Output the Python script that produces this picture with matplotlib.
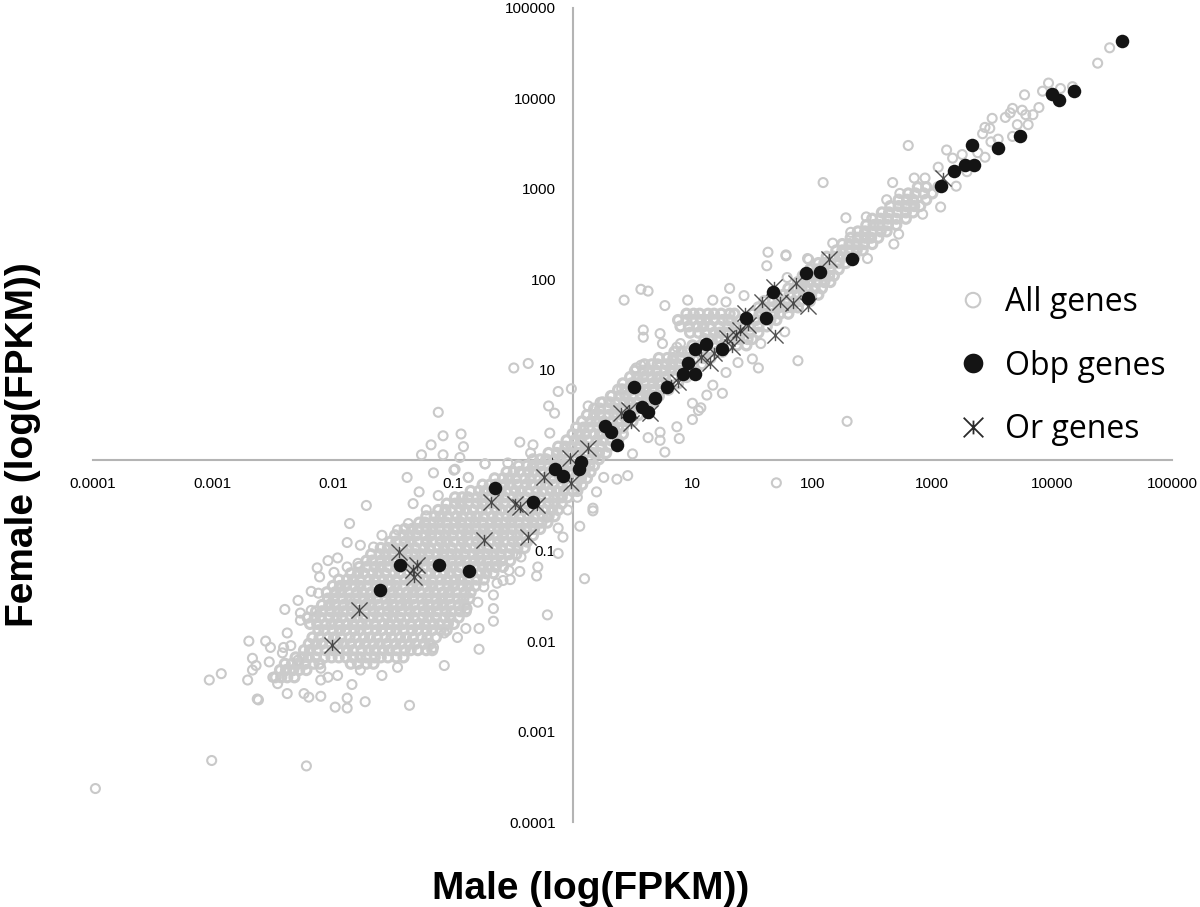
import numpy as np
import matplotlib.pyplot as plt
from matplotlib.path import Path

# everything below is log10(FPKM)
# dense part of the cloud, one male list per female level
low_levels = [-2.40, -2.32, -2.25, -2.18, -2.10, -2.03, -1.96, -1.88, -1.81, -1.74,
              -1.67, -1.60, -1.53, -1.46, -1.39, -1.32, -1.25, -1.18, -1.11, -1.04,
              -0.97, -0.90, -0.83, -0.76, -0.69, -0.62, -0.55, -0.48, -0.41, -0.34,
              -0.27, -0.20, -0.13, -0.06, 0.01, 0.08, 0.15, 0.22, 0.29]
low_male = [
    [-2.48, -2.43, -2.38, -2.32],
    [-2.44, -2.39, -2.33, -2.28, -2.22],
    [-2.40, -2.34, -2.29, -2.23, -2.16, -2.11, -1.85, -1.79, -1.72, -1.66],
    [-2.31, -2.25, -2.20, -2.14, -2.07, -2.01, -1.95, -1.89, -1.83, -1.77, -1.72, -1.65, -1.60, -1.54, -1.47, -1.41],
    [-2.24, -2.19, -2.13, -2.06, -2.00, -1.95, -1.88, -1.83, -1.76, -1.70, -1.65, -1.58, -1.53, -1.47, -1.40, -1.35, -1.29, -1.22, -1.17],
    [-2.20, -2.14, -2.09, -2.02, -1.96, -1.91, -1.85, -1.78, -1.73, -1.66, -1.61, -1.55, -1.48, -1.43, -1.36, -1.31, -1.24, -1.19],
    [-2.17, -2.11, -2.04, -1.99, -1.93, -1.86, -1.81, -1.74, -1.69, -1.63, -1.56, -1.51, -1.44, -1.39, -1.33, -1.26, -1.21, -1.14],
    [-2.12, -2.07, -2.00, -1.94, -1.89, -1.82, -1.77, -1.71, -1.64, -1.59, -1.52, -1.47, -1.41, -1.34, -1.29, -1.22, -1.17, -1.10, -1.05],
    [-2.19, -2.13, -2.06, -2.01, -1.95, -1.88, -1.83, -1.76, -1.71, -1.65, -1.58, -1.53, -1.46, -1.41, -1.35, -1.28, -1.23, -1.16, -1.11, -1.04, -0.99],
    [-2.21, -2.15, -2.10, -2.03, -1.97, -1.92, -1.85, -1.80, -1.74, -1.67, -1.62, -1.55, -1.50, -1.44, -1.37, -1.32, -1.25, -1.20, -1.14, -1.07, -1.02, -0.95],
    [-2.14, -2.09, -2.02, -1.96, -1.91, -1.84, -1.79, -1.73, -1.66, -1.61, -1.54, -1.49, -1.43, -1.36, -1.31, -1.24, -1.19, -1.13, -1.06, -1.01, -0.94, -0.89],
    [-2.09, -2.03, -1.98, -1.91, -1.85, -1.80, -1.73, -1.68, -1.62, -1.55, -1.50, -1.43, -1.38, -1.32, -1.25, -1.20, -1.13, -1.08, -1.02, -0.95, -0.90],
    [-2.04, -1.99, -1.92, -1.86, -1.81, -1.74, -1.69, -1.63, -1.56, -1.51, -1.44, -1.39, -1.33, -1.26, -1.21, -1.14, -1.09, -1.03, -0.96, -0.91, -0.86],
    [-2.05, -1.98, -1.93, -1.87, -1.80, -1.75, -1.68, -1.63, -1.57, -1.50, -1.45, -1.38, -1.33, -1.27, -1.20, -1.15, -1.08, -1.03, -0.97, -0.90, -0.85],
    [-2.00, -1.94, -1.89, -1.82, -1.77, -1.71, -1.64, -1.59, -1.52, -1.47, -1.41, -1.34, -1.29, -1.22, -1.17, -1.11, -1.04, -0.99, -0.92, -0.87, -0.81],
    [-1.95, -1.88, -1.83, -1.77, -1.70, -1.65, -1.58, -1.53, -1.47, -1.40, -1.35, -1.28, -1.23, -1.17, -1.10, -1.05, -0.98, -0.93, -0.87, -0.80, -0.74],
    [-1.85, -1.79, -1.74, -1.67, -1.62, -1.56, -1.49, -1.44, -1.37, -1.32, -1.26, -1.19, -1.14, -1.07, -1.02, -0.96, -0.89, -0.84, -0.77, -0.72, -0.66],
    [-1.78, -1.72, -1.65, -1.60, -1.54, -1.47, -1.42, -1.35, -1.30, -1.24, -1.17, -1.12, -1.05, -1.00, -0.94, -0.87, -0.82, -0.75, -0.70, -0.64, -0.58],
    [-1.72, -1.67, -1.60, -1.54, -1.49, -1.42, -1.37, -1.31, -1.24, -1.19, -1.12, -1.07, -1.01, -0.94, -0.89, -0.82, -0.77, -0.71, -0.64, -0.59, -0.52],
    [-1.68, -1.61, -1.56, -1.50, -1.43, -1.38, -1.31, -1.26, -1.20, -1.13, -1.08, -1.01, -0.96, -0.90, -0.83, -0.78, -0.71, -0.66, -0.60, -0.53, -0.47],
    [-1.60, -1.54, -1.49, -1.42, -1.37, -1.31, -1.24, -1.19, -1.12, -1.07, -1.01, -0.94, -0.89, -0.82, -0.77, -0.71, -0.64, -0.59, -0.52, -0.46, -0.40],
    [-1.52, -1.47, -1.40, -1.35, -1.29, -1.22, -1.17, -1.10, -1.05, -0.99, -0.92, -0.87, -0.80, -0.75, -0.69, -0.62, -0.57, -0.50, -0.45, -0.38],
    [-1.48, -1.41, -1.36, -1.30, -1.23, -1.18, -1.11, -1.06, -1.00, -0.93, -0.88, -0.81, -0.76, -0.70, -0.63, -0.58, -0.51, -0.46, -0.40, -0.33],
    [-1.40, -1.34, -1.29, -1.22, -1.17, -1.11, -1.04, -0.99, -0.92, -0.87, -0.81, -0.74, -0.69, -0.62, -0.57, -0.51, -0.44, -0.39, -0.32, -0.27],
    [-1.28, -1.23, -1.16, -1.11, -1.05, -0.98, -0.93, -0.86, -0.81, -0.75, -0.68, -0.63, -0.56, -0.51, -0.45, -0.38, -0.33, -0.26, -0.21],
    [-1.22, -1.15, -1.10, -1.04, -0.97, -0.92, -0.85, -0.80, -0.74, -0.67, -0.62, -0.55, -0.50, -0.44, -0.37, -0.32, -0.25, -0.20, -0.15],
    [-1.12, -1.06, -1.01, -0.94, -0.89, -0.83, -0.76, -0.71, -0.64, -0.59, -0.53, -0.46, -0.41, -0.34, -0.29, -0.23, -0.17, -0.12],
    [-1.05, -0.98, -0.93, -0.87, -0.80, -0.75, -0.68, -0.63, -0.57, -0.50, -0.45, -0.38, -0.33, -0.27, -0.20, -0.15, -0.09],
    [-0.98, -0.92, -0.87, -0.80, -0.75, -0.69, -0.62, -0.57, -0.50, -0.45, -0.39, -0.32, -0.27, -0.20, -0.15, -0.09, -0.04],
    [-0.85, -0.78, -0.73, -0.67, -0.60, -0.55, -0.48, -0.43, -0.37, -0.30, -0.25, -0.18, -0.13, -0.07, 0.00, 0.04],
    [-0.75, -0.69, -0.64, -0.57, -0.52, -0.46, -0.39, -0.34, -0.27, -0.22, -0.16, -0.09, -0.04, 0.03, 0.08],
    [-0.65, -0.58, -0.53, -0.47, -0.40, -0.35, -0.28, -0.23, -0.17, -0.10, -0.05, 0.02, 0.07, 0.12],
    [-0.55, -0.49, -0.44, -0.37, -0.32, -0.26, -0.19, -0.14, -0.07, -0.02, 0.04, 0.10, 0.15],
    [-0.45, -0.38, -0.33, -0.27, -0.20, -0.15, -0.08, -0.03, 0.03, 0.10, 0.14, 0.18],
    [-0.33, -0.27, -0.22, -0.15, -0.10, -0.04, 0.03, 0.08, 0.15, 0.22],
    [-0.20, -0.13, -0.08, -0.02, 0.05, 0.10, 0.17, 0.22, 0.28],
    [-0.12, -0.06, -0.01, 0.06, 0.11, 0.17, 0.24, 0.30],
    [-0.05, 0.02, 0.07, 0.13, 0.20, 0.25, 0.32, 0.38],
    [0.00, 0.06, 0.11, 0.18, 0.23, 0.29, 0.36, 0.42],
]

# the narrow band above 1, and the blob sitting over it
band_levels = [0.36, 0.43, 0.50, 0.57, 0.64, 0.71, 0.78, 0.85, 0.92, 0.99, 1.06, 1.13, 1.20,
               1.27, 1.34, 1.41, 1.48, 1.55, 1.62, 1.69, 1.76, 1.83, 1.90, 1.97, 2.04, 2.11,
               2.18, 2.25, 2.32, 2.39, 2.46, 2.53, 2.60, 2.67, 2.74, 2.81, 2.88, 2.95, 3.02]
band_male = [
    [0.03, 0.09, 0.14, 0.21, 0.26, 0.32, 0.38, 0.42],
    [0.08, 0.15, 0.20, 0.26, 0.33, 0.38, 0.45, 0.50],
    [0.12, 0.18, 0.23, 0.30, 0.35, 0.41, 0.48, 0.55],
    [0.18, 0.23, 0.30, 0.36, 0.41, 0.48, 0.53, 0.62],
    [0.25, 0.31, 0.36, 0.43, 0.48, 0.54, 0.61, 0.68],
    [0.32, 0.39, 0.44, 0.50, 0.57, 0.62, 0.67, 0.72],
    [0.38, 0.44, 0.49, 0.56, 0.61, 0.67, 0.74, 0.80],
    [0.42, 0.49, 0.54, 0.60, 0.67, 0.72, 0.79, 0.88],
    [0.48, 0.54, 0.59, 0.66, 0.71, 0.77, 0.84, 0.95],
    [0.52, 0.59, 0.64, 0.70, 0.77, 0.82, 0.89, 1.00],
    [0.60, 0.66, 0.71, 0.78, 0.83, 0.89, 0.96, 1.08],
    [0.72, 0.79, 0.84, 0.90, 0.97, 1.02, 1.09, 1.15],
    [0.85, 0.91, 0.96, 1.03, 1.08, 1.14, 1.21, 1.25],
    [1.00, 1.07, 1.12, 1.18, 1.25, 1.30, 1.37, 1.45],
    [1.10, 1.16, 1.21, 1.28, 1.33, 1.39, 1.46, 1.50],
    [0.98, 1.05, 1.11, 1.18, 1.23, 1.29, 1.36, 1.41, 1.48, 1.55],
    [0.90, 0.97, 1.04, 1.09, 1.15, 1.22, 1.30, 1.36, 1.43, 1.48, 1.55, 1.62],
    [0.88, 0.95, 1.00, 1.07, 1.12, 1.18, 1.25, 1.30, 1.40, 1.47, 1.53, 1.60, 1.65, 1.70],
    [0.95, 1.01, 1.06, 1.13, 1.18, 1.24, 1.31, 1.35, 1.50, 1.56, 1.61, 1.68, 1.73, 1.80],
    [1.55, 1.60, 1.67, 1.72, 1.78, 1.83, 1.88],
    [1.60, 1.67, 1.72, 1.78, 1.85, 1.90, 1.98],
    [1.70, 1.76, 1.81, 1.88, 1.93, 1.99, 2.05],
    [1.80, 1.85, 1.91, 1.96, 2.02, 2.08],
    [1.88, 1.93, 1.98, 2.04, 2.10, 2.15],
    [1.92, 1.98, 2.03, 2.09, 2.14, 2.18],
    [1.98, 2.04, 2.09, 2.15, 2.22],
    [2.05, 2.10, 2.15, 2.22, 2.28],
    [2.12, 2.18, 2.23, 2.29, 2.35],
    [2.20, 2.25, 2.31, 2.37, 2.42],
    [2.25, 2.31, 2.37, 2.43, 2.50],
    [2.32, 2.38, 2.44, 2.49, 2.55],
    [2.38, 2.44, 2.50, 2.57, 2.62],
    [2.45, 2.51, 2.56, 2.63, 2.70],
    [2.50, 2.57, 2.63, 2.70, 2.78],
    [2.58, 2.64, 2.71, 2.78, 2.84],
    [2.65, 2.72, 2.78, 2.85, 2.90],
    [2.72, 2.79, 2.84, 2.95],
    [2.80, 2.86, 2.93, 3.00],
    [2.88, 2.95, 3.05],
]

# rings that can be told apart one by one
sparse_male = [-3.03, -2.93, -2.70, -2.56, -2.52, -2.67, -2.53, -2.64, -2.67, -2.71, -2.63, -2.62, -2.38, -2.24,
               -2.20, -2.10, -1.98, -1.88, -1.88, -1.73, -1.36, -1.84, -1.59, -1.07, -0.78, -0.78, -0.66, -0.96,
               -0.21, 0.10, -0.12, 0.06, 0.17, -0.08, -0.29, -0.30, -0.44, -0.52, -0.74, -0.66, -0.66, -0.79, -0.88,
               -1.72, -1.86, -1.88, -1.59, -1.38, -1.16, -0.98, -0.73, -0.87, -1.33, -1.28, -1.12, -1.22, -1.37,
               -1.46, -2.04, -1.96, -2.13, -2.11, -2.18, -2.29, -2.40, -2.27, -2.38, -2.42, -1.77,
               -0.49, -0.37, -0.12, -0.01, -0.20, -0.15, -0.93, -0.91, -0.94, -0.44, -0.33, -0.73, -0.54, -0.99, -0.87,
               -0.19, -0.35, -1.12, -1.26, -1.08, -1.08, -1.18,
               0.43, 0.57, 0.63, 0.77, 0.96, 0.59, 0.59, 0.73, 0.75, 0.53, 0.57, 1.17, 1.31, 1.43, 1.28, 1.63, 1.78,
               1.62, 1.97, 1.79, 1.50, 1.55, 1.88, 1.28, 1.38, 1.77, 1.57, 1.25, 1.17, 1.12, 1.07, 1.00, 1.05, 1.00,
               0.89, 0.87, 0.73, 0.73, 0.77, 0.63, 0.50, 0.37, 0.46, 0.26, 0.20, 0.17, 1.70, 2.29, 0.13, 0.23, 0.33,
               0.41, 0.90, 0.87,
               2.09, 2.80, 2.28, 2.45, 2.67, 2.85, 2.94, 3.05, 3.12, 3.17, 3.25, 3.20, 3.07, 2.92, 2.72, 2.68, 2.46,
               2.17, 2.32, 2.62, 2.73, 1.96, 1.78,
               4.48, 4.38, 3.97, 3.92, 4.07, 4.17, 3.77, 3.89, 3.84, 3.80, 3.78, 3.75, 3.67, 3.65, 3.61, 3.50, 3.44,
               3.48, 3.42, 3.71, 3.67, 3.55, 3.49, 3.44, 3.38, 3.29,
               -3.98, -3.01, -2.22,
               -2.10, -2.04, -1.96, -2.10, -1.77, -1.46, -1.29, -1.16, -1.07, -0.89, -0.63, -0.58, -0.53, -0.43,
               -0.21, -0.12, -0.04, 0.04, -2.27, -2.35, -2.41, -2.50, -2.46, -2.29, -2.18, -2.12, -1.99, -1.88,
               -1.79, -1.66]
sparse_female = [-2.43, -2.36, -2.00, -2.00, -2.07, -2.19, -2.23, -2.27, -2.32, -2.43, -2.64, -2.65, -2.58, -2.58,
                 -2.62, -2.61, -2.73, -2.63, -2.74, -2.67, -2.71, -2.48, -2.38, -2.27, -2.09, -1.86, -1.78, -1.96,
                 -1.71, -1.31, -1.03, -0.73, -0.56, -0.85, -1.18, -1.28, -1.23, -1.32, -1.40, -1.49, -1.64, -1.57, -1.64,
                 -0.50, -0.70, -0.91, -0.83, -0.19, -0.14, -0.10, -0.04, -0.19, -0.48, -0.35, -0.39, -0.55, -0.70,
                 -0.77, -1.11, -1.08, -1.19, -1.29, -1.45, -1.55, -1.65, -1.69, -1.91, -2.13, -0.94,
                 1.02, 1.07, 0.76, 0.79, 0.60, 0.52, 0.29, 0.15, 0.03, 0.20, 0.17, -0.04, -0.03, -0.11, -0.19,
                 0.30, 0.08, 0.53, 0.06, 0.06, 0.27, 0.17,
                 1.77, 1.89, 1.87, 1.71, 1.77, 1.44, 1.36, 1.40, 1.29, 1.02, 1.05, 1.77, 1.90, 1.82, 1.75, 2.30, 2.27,
                 2.15, 2.22, 2.02, 1.12, 1.02, 1.10, 0.97, 1.08, 1.42, 1.29, 0.74, 0.83, 0.72, 0.58, 0.45, 0.55, 0.63,
                 0.24, 0.37, 0.31, 0.22, 0.09, 0.25, 0.07, -0.21, -0.17, -0.19, -0.35, -0.53, -0.25, 0.43, 0.60, 0.64, 0.71,
                 0.79, 1.29, 1.25,
                 3.07, 3.48, 2.68, 2.69, 3.07, 3.12, 3.12, 3.24, 3.43, 3.34, 3.38, 3.03, 2.80, 2.72, 2.50, 2.39, 2.23,
                 2.40, 2.52, 2.88, 2.95, 2.23, 2.26,
                 4.56, 4.39, 4.17, 4.08, 4.11, 4.13, 4.04, 3.90, 3.82, 3.71, 3.82, 3.87, 3.89, 3.84, 3.79, 3.78, 3.68,
                 3.67, 3.61, 3.71, 3.58, 3.55, 3.52, 3.35, 3.40, 3.19,
                 -3.63, -3.32, -3.38,
                 -2.30, -2.40, -2.38, -2.43, -2.32, -2.29, -2.10, -2.07, -1.91, -1.86, -1.36, -1.33, -1.22, -1.07,
                 -0.63, -0.75, -0.55, -0.41, -1.77, -2.05, -2.07, -2.40, -2.47, -2.21, -1.66, -1.47, -1.24, -1.18,
                 -1.14, -0.96]

obp_male = [4.58, 4.18, 4.00, 4.06, 3.73, 3.55, 3.33, 3.35, 3.27, 3.18, 3.07, 2.33, 1.95, 2.06, 1.96, 1.67, 1.61,
            1.45, 1.25, 1.11, 1.02, 0.96, 0.92, 1.02, 0.79, 0.51, 0.69, 0.58, 0.63, 0.47, 0.27, 0.32, 0.37, 0.07,
            0.05, -0.15, -0.08, -0.65, -0.33, -1.44, -1.11, -0.86, -1.61]
obp_female = [4.63, 4.08, 4.05, 3.98, 3.58, 3.45, 3.48, 3.26, 3.26, 3.20, 3.03, 2.23, 2.07, 2.08, 1.79, 1.86, 1.57,
              1.57, 1.23, 1.28, 1.23, 1.07, 0.95, 0.95, 0.81, 0.81, 0.69, 0.59, 0.53, 0.49, 0.38, 0.31, 0.17, -0.02,
              -0.10, -0.10, -0.17, -0.31, -0.46, -1.16, -1.16, -1.22, -1.43]

or_male = [-2.01, -1.78, -1.45, -1.30, -1.33, -1.32, -0.74, -0.37, -0.68, -0.48, -0.44, -0.30, -0.24, -0.01, -0.02,
           0.13, 0.40, 0.47, 0.49, 0.65, 0.88, 0.82, 1.07, 1.15, 1.18, 1.29, 1.36, 1.33, 1.40, 1.46, 1.44, 1.58, 1.68,
           1.73, 1.84, 1.86, 1.96, 1.69, 2.14, 3.09]
or_female = [-2.04, -1.66, -1.02, -1.16, -1.21, -1.29, -0.88, -0.85, -0.46, -0.48, -0.52, -0.49, -0.19, -0.25, 0.02,
             0.14, 0.52, 0.56, 0.41, 0.52, 0.87, 0.83, 1.14, 1.08, 1.18, 1.35, 1.38, 1.25, 1.44, 1.49, 1.63, 1.75, 1.91,
             1.75, 1.74, 1.96, 1.71, 1.38, 2.23, 3.12]

tick_values = [0.0001, 0.001, 0.01, 0.1, 1, 10, 100, 1000, 10000, 100000]
tick_labels = ['0.0001', '0.001', '0.01', '0.1', '1', '10', '100', '1000', '10000', '100000']

dense_male = []
dense_female = []
for levels, rows in [(low_levels, low_male), (band_levels, band_male)]:
    for level, row in zip(levels, rows):
        dense_male += row
        dense_female += [level] * len(row)

# X with a short upright stroke, like the spreadsheet star marker
star = Path([(-1, -1), (1, 1), (-1, 1), (1, -1), (0, -0.7), (0, 0.7)],
            [Path.MOVETO, Path.LINETO, Path.MOVETO, Path.LINETO, Path.MOVETO, Path.LINETO])

plt.rcParams['font.family'] = ['Liberation Sans', 'DejaVu Sans']
fig = plt.figure(figsize=(12, 9.07), dpi=100)
ax = fig.add_axes([93/1200, 85/907, 1079/1200, 814/907])
ax.set_xscale('log')
ax.set_yscale('log')
ax.set_xlim(1e-4, 1e5)
ax.set_ylim(1e-4, 1e5)

# heavier edge in the saturated part so the rings close up as in the original
ax.scatter(10**np.array(dense_male), 10**np.array(dense_female), s=42, facecolors='none',
           edgecolors='#cbcbcb', linewidths=2.3, zorder=3)
ax.scatter(10**np.array(sparse_male), 10**np.array(sparse_female), s=42, facecolors='none',
           edgecolors='#c9c9c9', linewidths=1.5, label='All genes', zorder=3, clip_on=False)
ax.scatter(10**np.array(or_male), 10**np.array(or_female), s=135, marker=star, c='#2a2a2a',
           linewidths=1.0, alpha=0.8, zorder=4)
ax.scatter(10**np.array(obp_male), 10**np.array(obp_female), s=95, c='#141414', linewidths=0,
           label='Obp genes', zorder=5)
ax.scatter([], [], s=150, marker=star, c='#2a2a2a', linewidths=1.3, label='Or genes')

for side in ['top', 'right']:
    ax.spines[side].set_visible(False)
ax.spines['left'].set_position(('data', 1))
ax.spines['bottom'].set_position(('data', 1))
for side in ['left', 'bottom']:
    ax.spines[side].set_color('#b4b4b4')
    ax.spines[side].set_linewidth(1.5)
    ax.spines[side].set_zorder(1)

ax.set_xticks(tick_values)
ax.set_xticklabels(tick_labels, fontsize=11)
ax.set_yticks(tick_values)
ax.set_yticklabels(tick_labels, fontsize=11)
ax.minorticks_off()
ax.tick_params(axis='x', length=0, pad=12)
ax.tick_params(axis='y', length=0, pad=12)
for lab in ax.get_xticklabels() + ax.get_yticklabels():
    lab.set_zorder(6)

ax.set_xlabel('Male (log(FPKM))', fontsize=28, fontweight='bold')
ax.xaxis.set_label_coords(0.4615, -0.082)
ax.xaxis.label.set_va('center')
ax.set_ylabel('Female (log(FPKM))', fontsize=28, fontweight='bold')
ax.yaxis.set_label_coords(-0.065, 0.4636)
ax.yaxis.label.set_va('center')

leg = ax.legend(loc='center left', bbox_to_anchor=(0.786, 0.560), frameon=False, fontsize=23,
                labelspacing=0.95, handletextpad=0, scatteryoffsets=[0.5], borderpad=0, borderaxespad=0)
for t in leg.get_texts():
    t.set_family('Open Sans')
for h, size in zip(leg.legend_handles, [110, 200, 200]):
    h.set_sizes([size])

fig.savefig('out.png', dpi=100)
plt.close(fig)
